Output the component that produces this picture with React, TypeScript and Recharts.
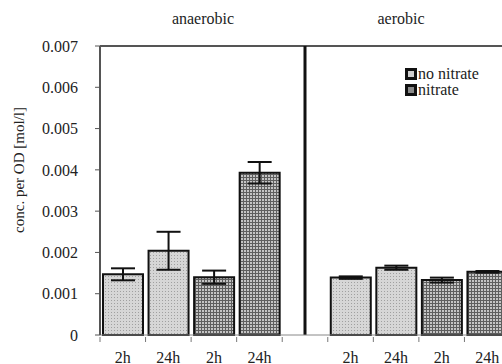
import { Bar, BarChart, Cell, ErrorBar, ReferenceLine, XAxis, YAxis } from "recharts";

const categories = [
  "an-no-2h",
  "an-no-24h",
  "an-ni-2h",
  "an-ni-24h",
  "gap",
  "ae-no-2h",
  "ae-no-24h",
  "ae-ni-2h",
  "ae-ni-24h",
];
const tickLabels = ["2h", "24h", "2h", "24h", "", "2h", "24h", "2h", "24h"];
const seriesOf = ["no nitrate", "no nitrate", "nitrate", "nitrate", "", "no nitrate", "no nitrate", "nitrate", "nitrate"];
const values = [0.00147, 0.00204, 0.0014, 0.00393, null, 0.00139, 0.00163, 0.00133, 0.00153];
const errors = [0.000145, 0.00046, 0.00016, 0.00026, null, 0.00003, 0.00005, 0.00006, 0.00002];
const yTicks = [0, 0.001, 0.002, 0.003, 0.004, 0.005, 0.006, 0.007];
const legendItems = ["no nitrate", "nitrate"];

const data = categories.map((id, i) => ({
  id,
  label: tickLabels[i],
  series: seriesOf[i],
  value: values[i],
  err: errors[i],
}));

const FONT = "Liberation Serif, DejaVu Serif, serif";
const W = 512;
const H = 364;
const LEFT = 100;
const RIGHT = 2;
const HALF_BAND = (W - LEFT - RIGHT) / categories.length / 2;

const fillFor = (s: string) => (s === "nitrate" ? "url(#patNitrate)" : "url(#patNo)");

function XTick(props: any) {
  const { x, y, payload } = props;
  const label = tickLabels[payload.index] ?? "";
  return (
    <g>
      <line x1={x - HALF_BAND} x2={x - HALF_BAND} y1={y} y2={y + 5} stroke="#777" strokeWidth={1} />
      <text x={x} y={y + 26} textAnchor="middle" style={{ fontFamily: FONT }} fontSize={16} fill="#222">
        {label}
      </text>
    </g>
  );
}

function LegendBox() {
  return (
    <div style={{ fontFamily: FONT, fontSize: 16, color: "#222", lineHeight: "16px" }}>
      {legendItems.map((s) => (
        <div key={s} style={{ display: "flex", alignItems: "center", height: 16 }}>
          <svg width={12} height={12} style={{ marginRight: 1 }}>
            <rect x={0} y={0} width={12} height={12} fill="#111" />
            <rect x={3} y={3} width={6} height={6} fill={s === "nitrate" ? "#8a8a8a" : "#cfcfcf"} />
          </svg>
          <span>{s}</span>
        </div>
      ))}
    </div>
  );
}

const textStyle = { fontFamily: FONT, fontSize: 16, color: "#222" };

export default function App() {
  return (
    <div
      style={{
        position: "fixed",
        left: 0,
        top: 0,
        width: 502,
        height: 364,
        overflow: "hidden",
        background: "#fff",
      }}
    >
      <BarChart
        width={W}
        height={H}
        data={data}
        margin={{ top: 46, right: RIGHT, left: 0, bottom: 0 }}
        barSize={40}
        style={{ fontFamily: FONT }}
      >
        <defs>
          <pattern id="patNo" width={3} height={3} patternUnits="userSpaceOnUse">
            <rect width={3} height={3} fill="#d6d6d6" />
            <rect width={1} height={1} fill="#a0a0a0" />
          </pattern>
          <pattern id="patNitrate" width={3} height={3} patternUnits="userSpaceOnUse">
            <rect width={3} height={3} fill="#5e5e5e" />
            <rect x={1} y={1} width={2} height={2} fill="#c4c4c4" />
          </pattern>
        </defs>
        <XAxis
          dataKey="id"
          height={29}
          interval={0}
          tick={<XTick />}
          tickLine={false}
          tickSize={0}
          axisLine={{ stroke: "#888", strokeWidth: 1 }}
        />
        <YAxis
          width={LEFT}
          domain={[0, 0.007]}
          ticks={yTicks}
          tickFormatter={(v: number) => (v === 0 ? "0" : v.toFixed(3))}
          tick={{ fontFamily: FONT, fontSize: 16, fill: "#222", style: { fontFamily: FONT } }}
          tickLine={{ stroke: "#555" }}
          tickSize={5}
          tickMargin={17}
          axisLine={{ stroke: "#555", strokeWidth: 2 }}
        />
        <ReferenceLine y={0.007} stroke="#555" strokeWidth={2} />
        <ReferenceLine x="gap" stroke="#111" strokeWidth={3} />
        <Bar dataKey="value" stroke="#111" strokeWidth={2} isAnimationActive={false}>
          {data.map((d) => (
            <Cell key={d.id} fill={fillFor(d.series)} />
          ))}
          <ErrorBar dataKey="err" width={12} stroke="#111" strokeWidth={2} />
        </Bar>
      </BarChart>
      <div style={{ ...textStyle, position: "absolute", left: 203, top: 10, transform: "translateX(-50%)" }}>
        anaerobic
      </div>
      <div style={{ ...textStyle, position: "absolute", left: 401, top: 10, transform: "translateX(-50%)" }}>
        aerobic
      </div>
      <div
        style={{
          ...textStyle,
          fontSize: 15,
          position: "absolute",
          left: 19,
          top: 170,
          transform: "translate(-50%, -50%) rotate(-90deg)",
          whiteSpace: "nowrap",
        }}
      >
        conc. per OD [mol/l]
      </div>
      <div style={{ position: "absolute", left: 405, top: 66 }}>
        <LegendBox />
      </div>
    </div>
  );
}
